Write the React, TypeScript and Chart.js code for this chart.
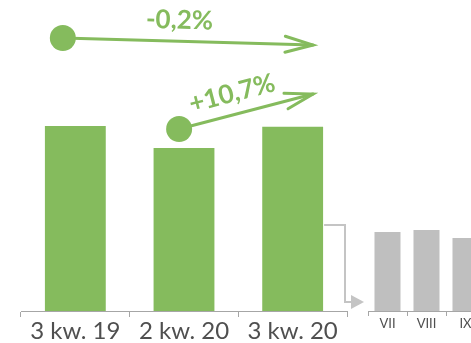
import React, { useEffect, useRef } from "react";
import { Chart, registerables } from "chart.js";

Chart.register(...registerables);

// ---- data ----
const quarterLabels = ["3 kw. 19", "2 kw. 20", "3 kw. 20"];
const quarterValues = [100, 88, 99.5];
const monthLabels = ["VII", "VIII", "IX"];
const monthValues = [42.7, 43.8, 39.5];
const changeLabels = ["-0,2%", "+10,7%"];
const Y_MAX = 168;

// ---- annotation geometry (category index / value units) ----
const ARROWS = [
  { fromX: -0.115, fromY: 147.5, toX: 2.187, toY: 143.7 },
  { fromX: 0.955, fromY: 98.3, toX: 2.187, toY: 117.2 },
];
const CONNECTOR_TOP = 46.5;
const CONNECTOR_BOTTOM = 4.9;

// ---- styles ----
const GREEN = "#85bb5d";
const BAR_GRAY = "#bfbfbf";
const LINE_GRAY = "#c4c4c4";
const AXIS_GRAY = "#a6a6a6";
const TEXT_GRAY = "#4f4f4f";
const FONT = "Lato";

const annotatePlugin = {
  id: "annotate",
  afterDraw(chart: any) {
    const { ctx, scales, chartArea } = chart;
    const x = scales.x;
    const y = scales.y;
    ctx.save();

    // connector to monthly chart
    const last = chart.getDatasetMeta(0).data[2];
    const bx = last.x + last.width / 2 + 1;
    const cx = chartArea.right - 2;
    const y1 = y.getPixelForValue(CONNECTOR_TOP);
    const y2 = y.getPixelForValue(CONNECTOR_BOTTOM);
    ctx.strokeStyle = LINE_GRAY;
    ctx.lineWidth = 2;
    ctx.lineJoin = "miter";
    ctx.beginPath();
    ctx.moveTo(bx, y1);
    ctx.lineTo(cx, y1);
    ctx.lineTo(cx, y2);
    ctx.lineTo(cx + 8, y2);
    ctx.stroke();
    ctx.fillStyle = LINE_GRAY;
    ctx.beginPath();
    ctx.moveTo(cx + 6, y2 - 7);
    ctx.lineTo(cx + 19, y2);
    ctx.lineTo(cx + 6, y2 + 7);
    ctx.closePath();
    ctx.fill();

    // change arrows
    ARROWS.forEach((a, i) => {
      const x0 = x.getPixelForValue(a.fromX);
      const y0 = y.getPixelForValue(a.fromY);
      const x1 = x.getPixelForValue(a.toX);
      const y1p = y.getPixelForValue(a.toY);
      const ang = Math.atan2(y1p - y0, x1 - x0);
      ctx.strokeStyle = GREEN;
      ctx.lineWidth = 3;
      ctx.lineCap = "round";
      ctx.beginPath();
      ctx.moveTo(x0, y0);
      ctx.lineTo(x1, y1p);
      ctx.stroke();
      const armLen = 29;
      const spread = (16 * Math.PI) / 180;
      ctx.beginPath();
      ctx.moveTo(x1 - armLen * Math.cos(ang - spread), y1p - armLen * Math.sin(ang - spread));
      ctx.lineTo(x1, y1p);
      ctx.lineTo(x1 - armLen * Math.cos(ang + spread), y1p - armLen * Math.sin(ang + spread));
      ctx.stroke();
      ctx.fillStyle = GREEN;
      ctx.beginPath();
      ctx.arc(x0, y0, 13, 0, Math.PI * 2);
      ctx.fill();

      // label
      const mx = (x0 + x1) / 2;
      const my = (y0 + y1p) / 2;
      ctx.save();
      ctx.translate(mx, my);
      ctx.rotate(ang);
      ctx.font = `bold 26px ${FONT}`;
      ctx.textAlign = "center";
      ctx.textBaseline = "middle";
      ctx.fillText(changeLabels[i], -9, -21);
      ctx.restore();
    });
    ctx.restore();
  },
};

export default function App() {
  const mainRef = useRef<HTMLCanvasElement>(null);
  const monthRef = useRef<HTMLCanvasElement>(null);

  useEffect(() => {
    document.body.style.margin = "0";
    const fixHeight = (scale: any) => {
      scale.height = 32;
    };
    const main = new Chart(mainRef.current!, {
      type: "bar",
      data: {
        labels: quarterLabels,
        datasets: [
          {
            data: quarterValues,
            backgroundColor: GREEN,
            categoryPercentage: 1,
            barPercentage: 0.56,
          },
        ],
      },
      options: {
        responsive: false,
        animation: false,
        layout: { padding: { left: 21, right: 124, top: 0, bottom: 0 } },
        plugins: { legend: { display: false }, tooltip: { enabled: false } },
        scales: {
          x: {
            afterFit: fixHeight,
            grid: { display: true, drawOnChartArea: false, tickLength: 6, color: AXIS_GRAY, offset: true },
            border: { display: true, color: AXIS_GRAY, width: 1 },
            ticks: { color: TEXT_GRAY, font: { family: FONT, size: 24 }, padding: 0, maxRotation: 0 },
          },
          y: { display: false, min: 0, max: Y_MAX },
        },
      },
      plugins: [annotatePlugin],
    });

    const month = new Chart(monthRef.current!, {
      type: "bar",
      data: {
        labels: monthLabels,
        datasets: [
          {
            data: monthValues,
            backgroundColor: BAR_GRAY,
            categoryPercentage: 1,
            barPercentage: 0.667,
          },
        ],
      },
      options: {
        responsive: false,
        animation: false,
        layout: { padding: { left: 5, right: 5, top: 0, bottom: 0 } },
        plugins: { legend: { display: false }, tooltip: { enabled: false } },
        scales: {
          x: {
            afterFit: fixHeight,
            grid: { display: true, drawOnChartArea: false, tickLength: 5, color: AXIS_GRAY, offset: true },
            border: { display: true, color: AXIS_GRAY, width: 1 },
            ticks: { color: TEXT_GRAY, font: { family: FONT, size: 13 }, padding: 0, maxRotation: 0 },
          },
          y: { display: false, min: 0, max: Y_MAX },
        },
      },
    });

    return () => {
      main.destroy();
      month.destroy();
    };
  }, []);

  return (
    <div style={{ position: "relative", width: 471, height: 343, overflow: "hidden", background: "#fff" }}>
      <canvas ref={mainRef} width={471} height={343} style={{ position: "absolute", left: 0, top: 0 }} />
      <canvas ref={monthRef} width={127} height={343} style={{ position: "absolute", left: 363, top: 0 }} />
    </div>
  );
}
